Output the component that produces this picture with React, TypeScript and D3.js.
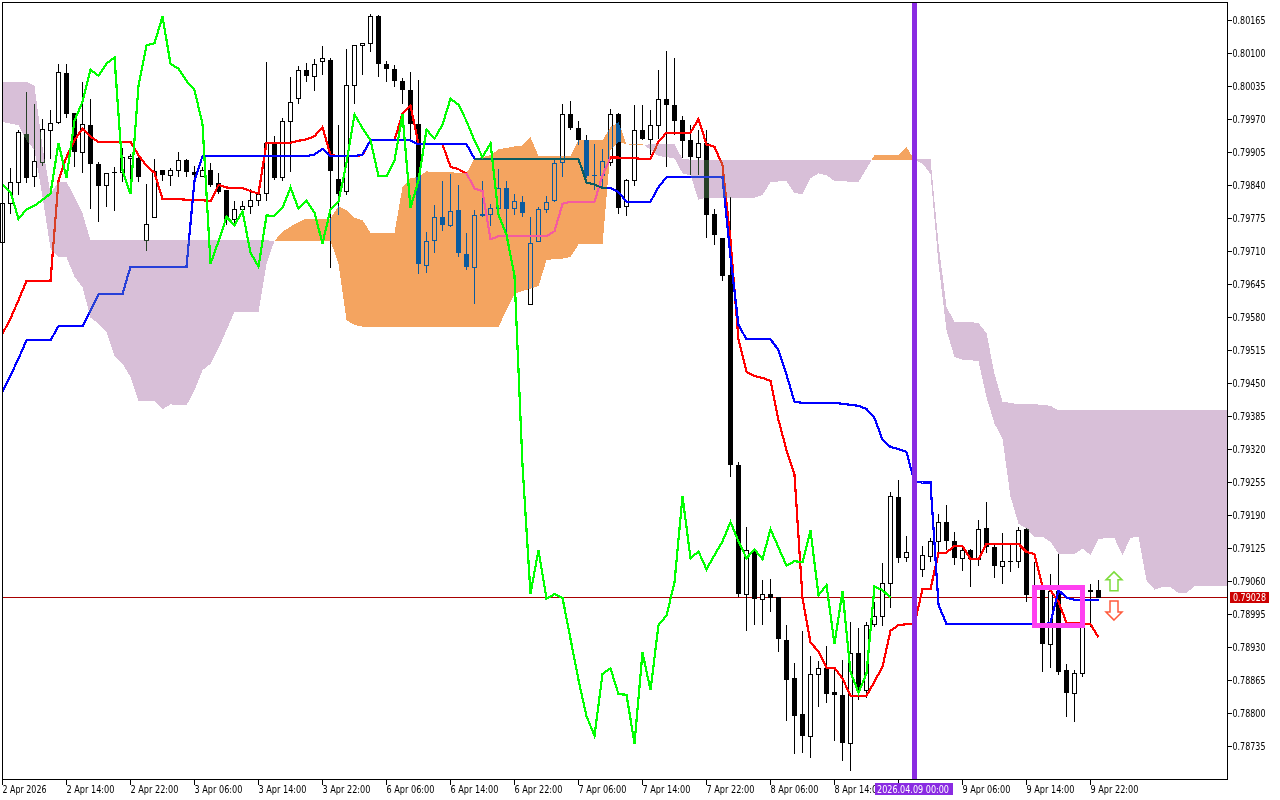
import React, { useEffect, useRef } from 'react';
import * as d3 from 'd3';

// H1 bars in points (price * 100000)
const opens = [
  79728,79806,79846,79942,79858,79887,79950,79966,80062,79982,79906,79960,79883,79841,79867,79867,79895,79895,79732,79777,
  79870,79861,79871,79891,79867,79859,79870,79844,79831,79774,79793,79800,79812,79825,79921,79856,79968,80013,80068,80055,
  80086,80088,79852,79830,80037,80116,80120,80173,80079,80070,80045,80029,79962,79684,79732,79777,79762,79791,79706,79680,
  79783,79783,79796,79836,79795,79808,79607,79730,79793,79812,79887,79980,79954,79929,79860,79860,79887,79980,79799,79850,
  79949,79932,79959,80011,79999,79969,79929,79896,79923,79783,79736,79663,79289,79036,79119,79026,79035,79029,78945,78870,
  78799,78756,78877,78889,78842,78836,78741,78920,78846,78976,78993,79058,79226,79108,79108,79084,79111,79139,79177,79139,
  79107,79123,79104,79165,79127,79091,79100,79100,79163,79033,79043,78937,79041,78885,78841,78879,79042,79043,
];
const highs = [
  79818,79875,79949,80025,80001,79970,79988,80080,80080,79982,80043,80011,79886,79865,79877,79913,79902,79900,79842,79892,
  79870,79875,79905,79893,79879,79877,79885,79864,79831,79810,79809,79834,79831,80083,79937,79972,80053,80076,80082,80090,
  80114,80092,79959,80108,80116,80121,80177,80175,80085,80078,80051,80063,80047,79748,79801,79848,79862,79841,79747,79791,
  79848,79804,79872,79848,79823,79820,79777,79797,79820,79891,80000,80006,79968,79939,79922,79911,79990,79982,79852,79999,
  79998,79988,80067,80104,80092,79976,79959,79950,79949,79793,79736,79817,79295,79167,79125,79063,79065,79029,78974,78899,
  78963,78913,78903,78933,78892,78905,78980,78968,78980,79020,79096,79236,79260,79150,79125,79129,79145,79193,79211,79158,
  79132,79124,79181,79217,79132,79156,79132,79167,79165,79099,79050,79075,79114,78897,78886,79054,79055,79063,
];
const lows = [
  79728,79783,79821,79845,79837,79879,79892,79961,79973,79877,79865,79794,79768,79798,79790,79847,79850,79847,79711,79777,
  79848,79839,79857,79857,79857,79857,79837,79823,79762,79766,79781,79783,79799,79810,79850,79848,79866,80001,80044,80026,
  80058,79678,79781,79821,80000,80057,80103,80053,80044,80034,80001,79932,79666,79668,79707,79751,79758,79699,79674,79607,
  79778,79760,79785,79749,79781,79778,79607,79730,79786,79808,79857,79949,79919,79854,79831,79837,79878,79784,79780,79839,
  79929,79900,79931,79877,79939,79894,79860,79860,79736,79723,79652,79265,79029,78963,78974,78974,78999,78922,78786,78721,
  78722,78713,78813,78821,78745,78707,78687,78827,78830,78970,78972,79008,79097,79099,79075,79069,79098,79116,79122,79093,
  79081,79050,79091,79116,79066,79055,79079,79086,79019,79027,78882,78890,78875,78794,78784,78871,78971,79028,
];
const closes = [
  79806,79846,79946,79855,79889,79952,79964,80064,79981,79906,79962,79883,79839,79864,79865,79897,79899,79857,79765,79869,
  79861,79871,79891,79867,79860,79871,79841,79827,79774,79793,79800,79812,79824,79924,79855,79968,80005,80068,80056,80080,
  80092,79869,79823,80037,80116,80120,80173,80080,80070,80046,80028,79961,79686,79730,79778,79762,79789,79708,79680,79781,
  79780,79796,79836,79794,79810,79786,79726,79793,79808,79885,79980,79953,79929,79858,79858,79889,79980,79796,79850,79950,
  79932,79960,80011,79999,79967,79928,79896,79923,79782,79743,79662,79289,79036,79122,79026,79035,79028,78947,78866,78795,
  78756,78878,78889,78838,78837,78741,78920,78846,78974,78993,79058,79228,79106,79119,79084,79112,79139,79177,79139,79106,
  79123,79104,79163,79127,79091,79100,79098,79161,79033,79053,78937,79041,78882,78841,78879,79050,79043,79028,
];

const tenkan = [
  79548,79578,79614,79652,79652,79652,79652,79850,79896,79929,79952,79936,79926,79926,79926,79926,79926,79900,79879,79865,
  79813,79813,79813,79812,79811,79811,79809,79841,79836,79835,79835,79829,79824,79924,79924,79924,79924,79928,79931,79937,
  79955,79900,79898,79898,79898,79900,79929,79929,79929,79929,79982,79998,79921,79921,79921,79921,79877,79872,79864,79834,
  79829,79734,79740,79740,79740,79740,79740,79740,79740,79750,79804,79808,79808,79808,79808,79860,79895,79895,79894,79894,
  79892,79893,79926,79944,79944,79944,79944,79971,79921,79916,79880,79732,79536,79473,79465,79461,79455,79378,79319,79270,
  79027,78940,78922,78890,78890,78869,78835,78835,78835,78863,78892,78963,78974,78976,78976,79045,79045,79116,79117,79130,
  79130,79104,79104,79134,79134,79134,79134,79134,79118,79114,79050,79043,79020,78979,78979,78976,78976,78950,
];
const kijun = [
  79434,79466,79499,79535,79535,79535,79535,79563,79563,79563,79563,79594,79626,79626,79626,79626,79680,79680,79680,79680,
  79680,79680,79680,79680,79850,79898,79898,79898,79898,79898,79898,79898,79898,79898,79898,79898,79898,79898,79898,79901,
  79912,79898,79898,79898,79898,79901,79929,79929,79929,79929,79929,79929,79921,79921,79921,79921,79921,79921,79921,79893,
  79892,79892,79892,79892,79892,79892,79892,79892,79892,79892,79892,79892,79892,79846,79842,79835,79835,79827,79808,79808,
  79808,79808,79837,79856,79857,79857,79857,79857,79857,79857,79856,79699,79565,79537,79537,79537,79537,79516,79467,79414,
  79412,79412,79412,79412,79412,79410,79408,79406,79400,79382,79339,79325,79321,79315,79256,79255,79255,79014,78976,78976,
  78976,78976,78976,78976,78976,78976,78976,78976,78976,78976,78976,78978,79043,79028,79024,79024,79024,79024,
];
// closes shifted back 26 bars
const chikou = [
  79841,79827,79774,79793,79800,79812,79824,79924,79855,79968,80005,80068,80056,80080,
  80092,79869,79823,80037,80116,80120,80173,80080,80070,80046,80028,79961,79686,79730,79778,79762,79789,79708,79680,79781,
  79780,79796,79836,79794,79810,79786,79726,79793,79808,79885,79980,79953,79929,79858,79858,79889,79980,79796,79850,79950,
  79932,79960,80011,79999,79967,79928,79896,79923,79782,79743,79662,79289,79036,79122,79026,79035,79028,78947,78866,78795,
  78756,78878,78889,78838,78837,78741,78920,78846,78974,78993,79058,79228,79106,79119,79084,79112,79139,79177,79139,79106,
  79123,79104,79163,79127,79091,79100,79098,79161,79033,79053,78937,79041,78882,78841,78879,79050,79043,79028,
];
const spanA = [
  79965,79962,79959,79929,79910,79818,79716,79699,79699,79660,79640,79580,79568,79552,79504,79489,79463,79416,79416,79416,
  79399,79409,79407,79407,79437,79476,79489,79519,79555,79591,79591,79591,79591,79686,79731,79749,79759,79768,79775,79775,
  79775,79775,79799,79791,79776,79772,79747,79747,79747,79747,79837,79854,79857,79868,79866,79866,79866,79865,79864,79893,
  79896,79900,79911,79914,79917,79919,79935,79898,79898,79898,79898,79898,79929,79929,79929,79929,79955,79965,79921,79922,
  79922,79910,79898,79896,79893,79864,79860,79812,79816,79816,79816,79816,79816,79816,79816,79821,79847,79848,79848,79825,
  79823,79854,79864,79860,79849,79849,79847,79847,79873,79900,79900,79900,79900,79915,79891,79883,79863,79686,79555,79502,
  79497,79496,79494,79423,79371,79341,79227,79174,79164,79148,79148,79138,79115,79114,79114,79125,79112,79143,79146,79145,
  79112,79146,79148,79062,79044,79049,79049,79037,79037,79051,79051,79051,79051,79051,
];
const spanB = [
  80044,80044,80044,80044,80036,79916,79824,79847,79847,79818,79785,79732,79732,79732,79732,79732,79732,79732,79732,79732,
  79732,79732,79732,79732,79732,79732,79732,79732,79732,79732,79732,79732,79732,79732,79731,79731,79731,79731,79731,79731,
  79731,79731,79686,79575,79565,79562,79562,79562,79562,79562,79562,79562,79562,79562,79562,79562,79562,79562,79562,79562,
  79562,79562,79562,79594,79627,79632,79637,79642,79693,79695,79696,79699,79724,79724,79724,79724,79910,79926,79921,79920,
  79920,79921,79921,79921,79921,79892,79891,79891,79891,79891,79891,79891,79891,79891,79891,79891,79891,79891,79891,79891,
  79891,79891,79891,79891,79891,79891,79891,79891,79891,79891,79891,79891,79891,79891,79891,79892,79892,79725,79601,79571,
  79571,79571,79569,79549,79469,79414,79412,79409,79409,79409,79408,79406,79397,79397,79397,79397,79397,79397,79397,79397,
  79397,79397,79397,79397,79397,79397,79397,79397,79397,79397,79397,79397,79397,79397,
];

const priceTicks = [
  80165,80100,80035,79970,79905,79840,79775,79710,79645,79580,79515,79450,
  79385,79320,79255,79190,79125,79060,78995,78930,78865,78800,78735,
];
const timeLabels = [
  '2 Apr 2026','2 Apr 14:00','2 Apr 22:00','3 Apr 06:00','3 Apr 14:00','3 Apr 22:00',
  '6 Apr 06:00','6 Apr 14:00','6 Apr 22:00','7 Apr 06:00','7 Apr 14:00','7 Apr 22:00',
  '8 Apr 06:00','8 Apr 14:00','','9 Apr 06:00','9 Apr 14:00','9 Apr 22:00',
];
const lastPrice = 79028;
const markerBar = 114;
const markerLabel = '2026.04.09 00:00';
const boxBars = [129, 135];
const boxPrices = [79048, 78974];
const arrowBar = 139;
const arrowUpPrice = 79079;
const arrowDownPrice = 78984;

const WIDTH = 1280;
const HEIGHT = 800;
const LEFT = 2;
const RIGHT = 1227;
const TOP = 2;
const BOTTOM = 779;
const FONT = '"DejaVu Sans", sans-serif';
const FONT_SIZE = 10;

const orange = '#0b5b9f'; // inverse of #f4a460, the fill is drawn as xor over the bars
const thistle = '#274027'; // inverse of #d8bfd8

const App: React.FC = () => {
  const svgRef = useRef<SVGSVGElement>(null);

  useEffect(() => {
    if (!svgRef.current) return;
    const svg = d3.select(svgRef.current);
    svg.selectAll('*').remove();

    const x = d3.scaleLinear().domain([0, 1]).range([LEFT, LEFT + 8]);
    const y = d3.scaleLinear().domain([80165, 78735]).range([20.5, 746.5]);
    const xc = (i: number) => x(i) + 0.5;

    svg.append('rect').attr('width', WIDTH).attr('height', HEIGHT).attr('fill', '#fff');

    // Last price line
    svg.append('rect')
      .attr('x', LEFT).attr('y', Math.round(y(lastPrice)) - 1).attr('width', RIGHT - LEFT).attr('height', 1)
      .attr('fill', '#a80000');

    // Candles
    const candles = svg.append('g').attr('shape-rendering', 'crispEdges');
    closes.forEach((c, i) => {
      const o = opens[i];
      const top = Math.round(y(Math.max(o, c)));
      const bot = Math.round(y(Math.min(o, c)));
      const h = Math.max(1, bot - top);
      const hi = Math.round(y(highs[i]));
      const lo = Math.round(y(lows[i]));
      candles.append('rect').attr('x', x(i)).attr('y', hi).attr('width', 1).attr('height', Math.max(1, lo - hi)).attr('fill', '#000');
      candles.append('rect').attr('x', x(i) - 2).attr('y', top).attr('width', 5).attr('height', h + (c >= o ? 1 : 0)).attr('fill', '#000');
      if (c >= o && h > 1) {
        candles.append('rect').attr('x', x(i) - 1).attr('y', top + 1).attr('width', 3).attr('height', h - 1).attr('fill', '#fff');
      }
    });

    const line = d3.line<number>().x((d, i) => xc(i)).y(d => y(d));
    const drawLine = (vals: number[], color: string) => {
      svg.append('path')
        .attr('d', line(vals) || '')
        .attr('fill', 'none')
        .attr('stroke', color)
        .attr('stroke-width', 2.2)
        .attr('shape-rendering', 'crispEdges');
    };
    drawLine(tenkan, '#ff0000');
    drawLine(kijun, '#0000ff');

    // Cloud, with a point added where the two spans cross
    const pts: { i: number; a: number; b: number }[] = [];
    spanA.forEach((a, i) => {
      const b = spanB[i];
      pts.push({ i, a, b });
      if (i + 1 < spanA.length) {
        const d0 = a - b;
        const d1 = spanA[i + 1] - spanB[i + 1];
        if (d0 * d1 < 0) {
          const t = d0 / (d0 - d1);
          const v = a + (spanA[i + 1] - a) * t;
          pts.push({ i: i + t, a: v, b: v });
        }
      }
    });
    const areaUp = d3.area<{ i: number; a: number; b: number }>()
      .x(d => xc(d.i)).y0(d => y(d.b)).y1(d => y(Math.max(d.a, d.b)));
    const areaDown = d3.area<{ i: number; a: number; b: number }>()
      .x(d => xc(d.i)).y0(d => y(d.a)).y1(d => y(Math.max(d.a, d.b)));
    [[areaUp, orange], [areaDown, thistle]].forEach(([area, color]: any) => {
      svg.append('path')
        .attr('d', area(pts) || '')
        .attr('fill', color)
        .attr('shape-rendering', 'crispEdges')
        .style('mix-blend-mode', 'difference');
    });

    drawLine(chikou, '#00ff00');

    // Vertical marker
    svg.append('rect')
      .attr('x', x(markerBar) - 2).attr('y', TOP).attr('width', 5).attr('height', BOTTOM - TOP)
      .attr('fill', '#8a2be2');

    // Box around the last cross
    svg.append('rect')
      .attr('x', xc(boxBars[0])).attr('y', y(boxPrices[0]))
      .attr('width', xc(boxBars[1]) - xc(boxBars[0])).attr('height', y(boxPrices[1]) - y(boxPrices[0]))
      .attr('fill', 'none').attr('stroke', '#ff40f0').attr('stroke-width', 5)
      .attr('shape-rendering', 'crispEdges');

    // Arrows
    const arrow = d3.line()([[0, 0], [8, 8], [4, 8], [4, 19], [-4, 19], [-4, 8], [-8, 8]]) + 'Z';
    svg.append('path')
      .attr('d', arrow)
      .attr('transform', `translate(${x(arrowBar)},${y(arrowUpPrice)})`)
      .attr('fill', '#fff').attr('stroke', '#7ddc3c').attr('stroke-width', 1.5);
    svg.append('path')
      .attr('d', arrow)
      .attr('transform', `translate(${x(arrowBar)},${y(arrowDownPrice)}) scale(1,-1)`)
      .attr('fill', '#fff').attr('stroke', '#ff5a3c').attr('stroke-width', 1.5);

    // Frame
    svg.append('rect')
      .attr('x', LEFT + 0.5).attr('y', TOP + 0.5).attr('width', RIGHT - LEFT).attr('height', BOTTOM - TOP)
      .attr('fill', 'none').attr('stroke', '#000').attr('shape-rendering', 'crispEdges');

    // Price axis
    const yAxis = d3.axisRight(y)
      .tickValues(priceTicks)
      .tickFormat(d => d3.format('.5f')(+d / 100000))
      .tickSize(4)
      .tickSizeOuter(0)
      .offset(0);
    const yG = svg.append('g').attr('transform', `translate(${RIGHT + 0.5},0)`).call(yAxis);
    yG.select('.domain').remove();
    yG.selectAll('line').attr('shape-rendering', 'crispEdges').attr('stroke', '#000');
    yG.selectAll('text')
      .attr('x', 5)
      .attr('dy', '0.36em')
      .attr('fill', '#000')
      .attr('font-family', FONT)
      .attr('font-size', FONT_SIZE)
      .attr('textLength', 33)
      .attr('lengthAdjust', 'spacingAndGlyphs');

    // Time axis
    const tickBars = timeLabels.map((_, k) => k * 8);
    const xAxis = d3.axisBottom(x)
      .tickValues(tickBars)
      .tickFormat((d, k) => timeLabels[k])
      .tickSize(5)
      .tickSizeOuter(0);
    const xG = svg.append('g').attr('transform', `translate(0,${BOTTOM + 0.5})`).call(xAxis);
    xG.select('.domain').remove();
    xG.selectAll('line').attr('shape-rendering', 'crispEdges').attr('stroke', '#000');
    xG.selectAll('text')
      .attr('x', 0)
      .attr('y', 13)
      .attr('dy', 0)
      .attr('fill', '#000')
      .attr('text-anchor', 'start')
      .attr('font-family', FONT)
      .attr('font-size', FONT_SIZE)
      .attr('textLength', (d, k) => (k === 0 ? 44 : 48))
      .attr('lengthAdjust', 'spacingAndGlyphs');

    // Marker date label
    svg.append('rect')
      .attr('x', 875).attr('y', 783).attr('width', 78).attr('height', 12)
      .attr('fill', '#8a2be2');
    svg.append('text')
      .attr('x', 877).attr('y', 793)
      .attr('fill', '#fff')
      .attr('font-family', FONT)
      .attr('font-size', FONT_SIZE)
      .attr('textLength', 72)
      .attr('lengthAdjust', 'spacingAndGlyphs')
      .text(markerLabel);

    // Last price label
    svg.append('rect')
      .attr('x', 1230).attr('y', Math.round(y(lastPrice)) - 6).attr('width', 39).attr('height', 11)
      .attr('fill', '#cc0000');
    svg.append('text')
      .attr('x', 1233).attr('y', Math.round(y(lastPrice)) + 3)
      .attr('fill', '#fff')
      .attr('font-family', FONT)
      .attr('font-size', FONT_SIZE)
      .attr('textLength', 33)
      .attr('lengthAdjust', 'spacingAndGlyphs')
      .text(d3.format('.5f')(lastPrice / 100000));
  }, []);

  return (
    <svg
      ref={svgRef}
      width={WIDTH}
      height={HEIGHT}
      style={{ position: 'absolute', left: 0, top: 0, display: 'block' }}
    />
  );
};

export default App;
